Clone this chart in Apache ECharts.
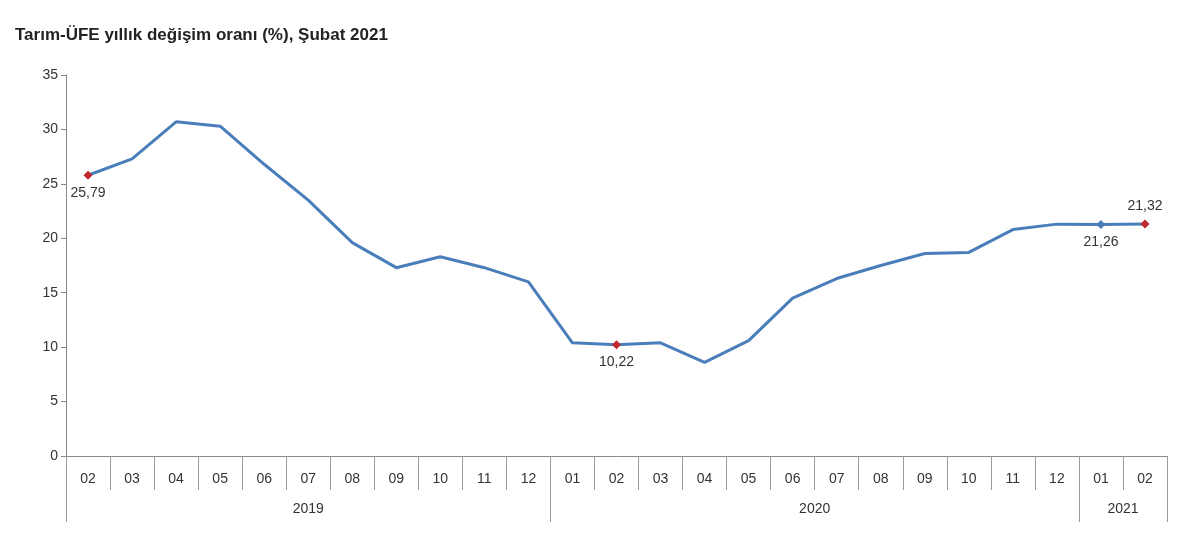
<!DOCTYPE html>
<html><head><meta charset="utf-8">
<script src="https://cdn.jsdelivr.net/npm/echarts@6/dist/echarts.min.js"></script>
<style>html,body{margin:0;padding:0;background:#fff}#c{width:1200px;height:554px}</style>
</head><body><div id="c"></div>
<script>
const months = ['02','03','04','05','06','07','08','09','10','11','12','01','02','03','04','05','06','07','08','09','10','11','12','01','02'];
const values = [25.79,27.3,30.7,30.3,26.8,23.5,19.6,17.3,18.3,17.3,16.0,10.4,10.22,10.4,8.6,10.6,14.5,16.3,17.5,18.6,18.7,20.8,21.3,21.26,21.32];
const years = ['2019','2020','2021'];
const yearStarts = [0,11,23,25];
const highlights = {0:{c:'#c0282d',pos:'bottom'},12:{c:'#c0282d',pos:'bottom'},23:{c:'#4a7ebb',pos:'bottom'},24:{c:'#c0282d',pos:'top'}};
const yearCenters = years.map((y,i)=>(yearStarts[i]+yearStarts[i+1])/2);
const data = values.map((v,i)=>{
  const h = highlights[i];
  if(!h) return {value:v, symbol:'none'};
  return {value:v, symbol:'diamond', symbolSize:9, itemStyle:{color:h.c},
    label:{show:true, position:h.pos, distance:6, color:'#333', fontSize:14,
      formatter:()=>v.toFixed(2).replace('.',',')}};
});
const chart = echarts.init(document.getElementById('c'));
chart.setOption({
  animation:false,
  title:{text:'Tarım-ÜFE yıllık değişim oranı (%), Şubat 2021', left:10, top:22,
    textStyle:{fontSize:17, fontWeight:'bold', color:'#222', fontFamily:'Liberation Sans'}},
  grid:{left:66, right:33, top:75, bottom:98},
  xAxis:[
    {type:'category', data:months, boundaryGap:true,
     axisLine:{lineStyle:{color:'#888'}},
     axisTick:{show:true, interval:0, length:34, lineStyle:{color:'#999'}},
     axisLabel:{interval:0, margin:16, color:'#333', fontSize:14}},
    {type:'value', position:'bottom', offset:34, min:0, max:25,
     axisLine:{show:false}, splitLine:{show:false},
     axisTick:{show:true, customValues:yearStarts, length:32, lineStyle:{color:'#999'}},
     axisLabel:{customValues:yearCenters, margin:12, color:'#333', fontSize:14,
       formatter:(v)=>years[yearCenters.indexOf(v)] || ''}}
  ],
  yAxis:{type:'value', min:0, max:35, interval:5,
    axisLine:{show:true, lineStyle:{color:'#888'}},
    axisTick:{show:true, length:5},
    splitLine:{show:false},
    axisLabel:{color:'#333', fontSize:14}},
  series:[{type:'line', data:data, xAxisIndex:0, showSymbol:true, symbol:'none',
    lineStyle:{color:'#4a7ebb', width:3}, itemStyle:{color:'#4a7ebb'}}]
});
</script></body></html>
